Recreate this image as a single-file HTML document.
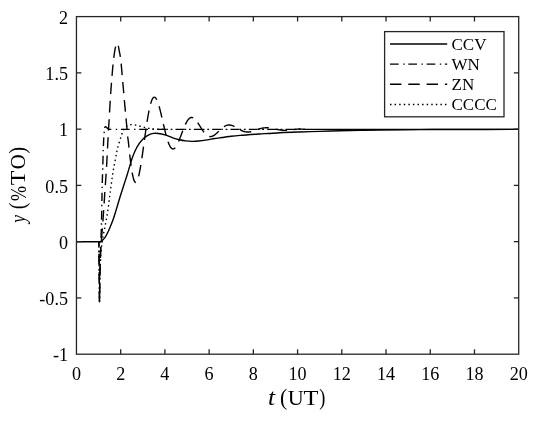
<!DOCTYPE html>
<html><head><meta charset="utf-8"><style>
html,body{margin:0;padding:0;background:#fff;}
svg{display:block;will-change:transform;}
text{font-family:"Liberation Serif",serif;fill:#000;}
</style></head><body>
<svg width="550" height="421" viewBox="0 0 550 421">
<rect width="550" height="421" fill="#fff"/>
<g fill="none" stroke="#000" stroke-width="1.4" stroke-linejoin="round" transform="translate(0 0.33)">
<path d="M76.45 241.40L98.80 241.40C99.00 241.38 99.53 241.43 100.00 241.30C100.47 241.17 101.07 240.95 101.60 240.60C102.13 240.25 102.68 239.72 103.20 239.20C103.72 238.68 104.22 238.15 104.70 237.50C105.18 236.85 105.63 236.12 106.10 235.30C106.57 234.48 107.03 233.53 107.50 232.60C107.97 231.67 108.28 231.10 108.90 229.70C109.52 228.30 110.47 226.05 111.20 224.20C111.93 222.35 112.62 220.57 113.30 218.60C113.98 216.63 114.62 214.60 115.30 212.40C115.98 210.20 116.48 208.43 117.40 205.40C118.32 202.37 119.68 197.77 120.80 194.20C121.92 190.63 123.07 187.20 124.10 184.00C125.13 180.80 126.05 178.08 127.00 175.00C127.95 171.92 128.90 168.47 129.80 165.50C130.70 162.53 131.47 159.80 132.40 157.20C133.33 154.60 134.25 152.25 135.40 149.90C136.55 147.55 137.87 145.15 139.30 143.10C140.73 141.05 142.42 139.03 144.00 137.60C145.58 136.17 147.22 135.25 148.80 134.50C150.38 133.75 151.92 133.33 153.50 133.10C155.08 132.87 156.38 132.87 158.30 133.10C160.22 133.33 162.60 133.77 165.00 134.50C167.40 135.23 170.28 136.68 172.70 137.50C175.12 138.32 177.37 138.90 179.50 139.40C181.63 139.90 183.45 140.23 185.50 140.50C187.55 140.77 189.63 140.97 191.80 141.00C193.97 141.03 195.92 140.95 198.50 140.70C201.08 140.45 204.63 139.92 207.30 139.50C209.97 139.08 212.08 138.58 214.50 138.20C216.92 137.82 219.37 137.53 221.80 137.20C224.23 136.87 226.07 136.57 229.10 136.20C232.13 135.83 234.85 135.43 240.00 135.00C245.15 134.57 253.33 134.04 260.00 133.60C266.67 133.16 273.33 132.68 280.00 132.35C286.67 132.02 293.33 131.82 300.00 131.60C306.67 131.38 313.33 131.19 320.00 131.00C326.67 130.81 333.33 130.62 340.00 130.45C346.67 130.27 353.33 130.09 360.00 129.95C366.67 129.81 370.00 129.71 380.00 129.60C390.00 129.49 406.67 129.38 420.00 129.30C433.33 129.23 443.55 129.19 460.00 129.15C476.45 129.11 508.92 129.07 518.70 129.06"/>
<path d="M98.90 241.40L99.50 301.30C99.54 298.58 99.65 291.05 99.75 285.00C99.85 278.95 99.96 271.17 100.10 265.00C100.24 258.83 100.43 253.00 100.60 248.00C100.77 243.00 100.95 239.33 101.10 235.00C101.25 230.67 101.38 227.00 101.50 222.00C101.62 217.00 101.72 209.50 101.80 205.00C101.88 200.50 101.92 198.83 102.00 195.00C102.08 191.17 102.20 185.83 102.30 182.00C102.40 178.17 102.48 176.00 102.60 172.00C102.72 168.00 102.88 162.00 103.00 158.00C103.12 154.00 103.18 151.17 103.30 148.00C103.42 144.83 103.57 141.50 103.70 139.00C103.83 136.50 103.97 134.83 104.10 133.00C104.23 131.17 104.28 129.12 104.50 128.00C104.72 126.88 105.05 126.45 105.40 126.30C105.75 126.15 106.10 126.68 106.60 127.10C107.10 127.52 107.67 128.48 108.40 128.80C109.13 129.12 110.57 128.99 111.00 129.03" stroke-dasharray="0.00 0.00 4.36 4.50 1.40 3.70 8.70 4.50 1.40 3.70 8.70 4.50 1.40 3.70 8.70 4.50 1.40 3.70 8.70 4.50 1.40 3.70 8.70 4.50 1.40 3.70 8.70 4.50 1.40 3.70 8.70 4.50 1.40 3.70 8.70 4.50 1.40 3.70 8.60 4.46 1.38 3.64 9.10 4.48 1.40 3.68 8.66 4.48 1.40 3.68 8.68 4.48 1.40 3.68 8.35 1000.00"/>
<path d="M98.90 241.40L99.50 301.30C99.54 298.58 99.64 291.05 99.75 285.00C99.86 278.95 99.99 270.83 100.15 265.00C100.31 259.17 100.46 254.67 100.70 250.00C100.94 245.33 101.27 241.33 101.60 237.00C101.93 232.67 102.38 228.17 102.70 224.00C103.02 219.83 103.25 215.67 103.50 212.00C103.75 208.33 103.98 205.33 104.20 202.00C104.42 198.67 104.60 195.00 104.80 192.00C105.00 189.00 105.18 187.08 105.40 184.00C105.62 180.92 105.88 176.83 106.10 173.50C106.32 170.17 106.50 167.50 106.70 164.00C106.90 160.50 107.10 156.42 107.30 152.50C107.50 148.58 107.70 144.33 107.90 140.50C108.10 136.67 108.27 133.50 108.50 129.50C108.73 125.50 109.00 121.58 109.30 116.50C109.60 111.42 109.98 104.08 110.30 99.00C110.62 93.92 110.88 90.25 111.20 86.00C111.52 81.75 111.85 77.58 112.20 73.50C112.55 69.42 112.90 65.17 113.30 61.50C113.70 57.83 114.18 54.18 114.60 51.50C115.02 48.82 115.40 46.83 115.80 45.40C116.20 43.97 116.60 42.95 117.00 42.90C117.40 42.85 117.82 43.78 118.20 45.10C118.58 46.42 118.92 48.73 119.30 50.80C119.68 52.87 120.15 54.97 120.50 57.50C120.85 60.03 121.10 62.83 121.40 66.00C121.70 69.17 121.98 72.92 122.30 76.50C122.62 80.08 122.93 83.33 123.30 87.50C123.67 91.67 124.08 96.83 124.50 101.50C124.92 106.17 125.42 111.33 125.80 115.50C126.18 119.67 126.50 123.15 126.80 126.50C127.10 129.85 127.32 132.94 127.60 135.60C127.88 138.26 128.27 140.48 128.50 142.47C128.73 144.45 128.83 145.88 129.00 147.52C129.17 149.16 129.33 150.76 129.50 152.31C129.67 153.86 129.83 155.36 130.00 156.80C130.17 158.25 130.33 159.65 130.50 160.98C130.67 162.32 130.83 163.60 131.00 164.82C131.17 166.05 131.33 167.21 131.50 168.31C131.67 169.41 131.83 170.45 132.00 171.42C132.17 172.39 132.33 173.30 132.50 174.15C132.67 174.99 132.83 175.77 133.00 176.48C133.17 177.19 133.33 177.83 133.50 178.41C133.67 178.98 133.83 179.49 134.00 179.93C134.17 180.38 134.33 180.75 134.50 181.06C134.67 181.36 134.83 181.60 135.00 181.78C135.17 181.95 135.33 182.06 135.50 182.10C135.67 182.15 135.83 182.12 136.00 182.04C136.17 181.95 136.33 181.81 136.50 181.60C136.67 181.39 136.83 181.12 137.00 180.79C137.17 180.47 137.33 180.08 137.50 179.64C137.67 179.20 137.83 178.70 138.00 178.15C138.17 177.61 138.33 177.00 138.50 176.36C138.67 175.71 138.83 175.01 139.00 174.27C139.17 173.52 139.33 172.74 139.50 171.91C139.67 171.08 139.83 170.21 140.00 169.31C140.17 168.40 140.33 167.46 140.50 166.48C140.67 165.51 140.83 164.50 141.00 163.47C141.17 162.44 141.33 161.37 141.50 160.29C141.67 159.20 141.83 158.09 142.00 156.97C142.17 155.84 142.33 154.69 142.50 153.53C142.67 152.37 142.83 151.20 143.00 150.01C143.17 148.83 143.33 147.63 143.50 146.44C143.67 145.24 143.83 144.03 144.00 142.83C144.17 141.63 144.33 140.42 144.50 139.22C144.67 138.02 144.83 136.82 145.00 135.63C145.17 134.44 145.33 133.26 145.50 132.09C145.67 130.92 145.83 129.76 146.00 128.62C146.17 127.48 146.33 126.35 146.50 125.25C146.67 124.14 146.83 123.05 147.00 121.99C147.17 120.92 147.33 119.88 147.50 118.86C147.67 117.85 147.83 116.86 148.00 115.90C148.17 114.93 148.33 114.00 148.50 113.10C148.67 112.20 148.83 111.33 149.00 110.49C149.17 109.66 149.33 108.85 149.50 108.08C149.67 107.32 149.83 106.58 150.00 105.89C150.17 105.20 150.33 104.54 150.50 103.92C150.67 103.30 150.83 102.72 151.00 102.18C151.17 101.64 151.33 101.14 151.50 100.68C151.67 100.22 151.83 99.80 152.00 99.42C152.17 99.04 152.33 98.70 152.50 98.41C152.67 98.11 152.83 97.85 153.00 97.64C153.17 97.42 153.33 97.25 153.50 97.11C153.67 96.98 153.83 96.89 154.00 96.83C154.17 96.78 154.33 96.76 154.50 96.79C154.67 96.81 154.83 96.88 155.00 96.98C155.17 97.08 155.33 97.21 155.50 97.39C155.67 97.56 155.83 97.77 156.00 98.01C156.17 98.26 156.33 98.54 156.50 98.85C156.67 99.16 156.83 99.50 157.00 99.87C157.17 100.25 157.33 100.65 157.50 101.08C157.67 101.51 157.83 101.97 158.00 102.46C158.17 102.94 158.33 103.46 158.50 103.99C158.67 104.52 158.83 105.08 159.00 105.66C159.17 106.23 159.33 106.83 159.50 107.45C159.67 108.07 159.83 108.70 160.00 109.35C160.17 110.00 160.33 110.66 160.50 111.34C160.67 112.01 160.83 112.71 161.00 113.40C161.17 114.10 161.33 114.81 161.50 115.52C161.67 116.24 161.83 116.96 162.00 117.69C162.17 118.41 162.33 119.14 162.50 119.87C162.67 120.60 162.83 121.34 163.00 122.07C163.17 122.80 163.33 123.53 163.50 124.25C163.67 124.98 163.83 125.70 164.00 126.42C164.17 127.13 164.33 127.84 164.50 128.54C164.67 129.24 164.83 129.93 165.00 130.61C165.17 131.29 165.33 131.96 165.50 132.62C165.67 133.27 165.83 133.92 166.00 134.55C166.17 135.17 166.33 135.79 166.50 136.38C166.67 136.98 166.83 137.56 167.00 138.12C167.17 138.68 167.33 139.22 167.50 139.75C167.67 140.27 167.83 140.77 168.00 141.25C168.17 141.73 168.33 142.19 168.50 142.63C168.67 143.07 168.83 143.49 169.00 143.88C169.17 144.27 169.33 144.64 169.50 144.98C169.67 145.33 169.83 145.65 170.00 145.95C170.17 146.24 170.33 146.52 170.50 146.77C170.67 147.01 170.83 147.24 171.00 147.43C171.17 147.63 171.33 147.80 171.50 147.95C171.67 148.10 171.83 148.22 172.00 148.32C172.17 148.42 172.33 148.50 172.50 148.55C172.67 148.60 172.83 148.62 173.00 148.62C173.17 148.63 173.33 148.60 173.50 148.56C173.67 148.51 173.83 148.45 174.00 148.36C174.17 148.27 174.33 148.15 174.50 148.02C174.67 147.89 174.83 147.73 175.00 147.56C175.17 147.38 175.33 147.19 175.50 146.97C175.67 146.76 175.83 146.53 176.00 146.28C176.17 146.03 176.33 145.76 176.50 145.48C176.67 145.19 176.83 144.89 177.00 144.58C177.17 144.27 177.33 143.94 177.50 143.59C177.67 143.25 177.83 142.90 178.00 142.53C178.17 142.17 178.33 141.79 178.50 141.40C178.67 141.01 178.83 140.61 179.00 140.21C179.17 139.80 179.33 139.39 179.50 138.97C179.67 138.55 179.83 138.12 180.00 137.69C180.17 137.26 180.33 136.82 180.50 136.39C180.67 135.95 180.83 135.51 181.00 135.06C181.17 134.62 181.33 134.17 181.50 133.73C181.67 133.29 181.83 132.84 182.00 132.40C182.17 131.96 182.33 131.52 182.50 131.08C182.67 130.64 182.83 130.21 183.00 129.78C183.17 129.35 183.33 128.93 183.50 128.51C183.67 128.09 183.83 127.68 184.00 127.27C184.17 126.87 184.33 126.47 184.50 126.09C184.67 125.70 184.83 125.32 185.00 124.95C185.17 124.58 185.33 124.22 185.50 123.87C185.67 123.52 185.83 123.19 186.00 122.86C186.17 122.53 186.33 122.22 186.50 121.92C186.67 121.62 186.83 121.33 187.00 121.05C187.17 120.78 187.33 120.52 187.50 120.27C187.67 120.02 187.83 119.78 188.00 119.57C188.17 119.35 188.33 119.14 188.50 118.95C188.67 118.76 188.83 118.58 189.00 118.42C189.17 118.26 189.33 118.11 189.50 117.98C189.67 117.85 189.83 117.74 190.00 117.64C190.17 117.53 190.33 117.45 190.50 117.38C190.67 117.31 190.83 117.25 191.00 117.21C191.17 117.17 191.33 117.15 191.50 117.13C191.67 117.12 191.83 117.13 192.00 117.14C192.17 117.16 192.33 117.19 192.50 117.24C192.67 117.28 192.83 117.34 193.00 117.41C193.17 117.48 193.33 117.57 193.50 117.67C193.67 117.76 193.83 117.87 194.00 118.00C194.17 118.12 194.33 118.25 194.50 118.40C194.67 118.54 194.83 118.69 195.00 118.86C195.17 119.02 195.33 119.20 195.50 119.38C195.67 119.57 195.83 119.76 196.00 119.97C196.17 120.17 196.33 120.38 196.50 120.60C196.67 120.81 196.83 121.04 197.00 121.27C197.17 121.50 197.33 121.74 197.50 121.98C197.67 122.22 197.83 122.47 198.00 122.72C198.17 122.97 198.33 123.23 198.50 123.49C198.67 123.75 198.83 124.01 199.00 124.28C199.17 124.54 199.33 124.81 199.50 125.08C199.67 125.35 199.83 125.62 200.00 125.89C200.17 126.16 200.33 126.43 200.50 126.70C200.67 126.97 200.83 127.24 201.00 127.50C201.17 127.77 201.33 128.04 201.50 128.30C201.67 128.56 201.83 128.82 202.00 129.08C202.17 129.33 202.33 129.59 202.50 129.83C202.67 130.08 202.83 130.33 203.00 130.57C203.17 130.81 203.33 131.04 203.50 131.27C203.67 131.50 203.83 131.72 204.00 131.94C204.17 132.15 204.33 132.36 204.50 132.57C204.67 132.77 204.83 132.96 205.00 133.15C205.17 133.34 205.33 133.52 205.50 133.70C205.67 133.87 205.83 134.03 206.00 134.19C206.17 134.35 206.33 134.50 206.50 134.64C206.67 134.77 206.83 134.91 207.00 135.03C207.17 135.15 207.33 135.26 207.50 135.37C207.67 135.47 207.83 135.57 208.00 135.65C208.17 135.74 208.33 135.82 208.50 135.88C208.67 135.95 208.83 136.01 209.00 136.06C209.17 136.11 209.33 136.15 209.50 136.18C209.67 136.21 209.83 136.23 210.00 136.25C210.17 136.26 210.33 136.26 210.50 136.26C210.67 136.25 210.83 136.24 211.00 136.22C211.17 136.20 211.33 136.17 211.50 136.13C211.67 136.09 211.83 136.05 212.00 135.99C212.17 135.94 212.33 135.88 212.50 135.81C212.67 135.74 212.83 135.66 213.00 135.58C213.17 135.50 213.33 135.41 213.50 135.31C213.67 135.22 213.83 135.11 214.00 135.01C214.17 134.90 214.33 134.78 214.50 134.66C214.67 134.55 214.83 134.42 215.00 134.29C215.17 134.16 215.33 134.03 215.50 133.89C215.67 133.75 215.83 133.61 216.00 133.47C216.17 133.32 216.33 133.17 216.50 133.02C216.67 132.87 216.83 132.72 217.00 132.56C217.17 132.40 217.33 132.25 217.50 132.09C217.67 131.93 217.83 131.76 218.00 131.60C218.17 131.44 218.33 131.28 218.50 131.11C218.67 130.95 218.83 130.78 219.00 130.62C219.17 130.46 219.33 130.29 219.50 130.13C219.67 129.97 219.83 129.80 220.00 129.64C220.17 129.48 220.33 129.32 220.50 129.17C220.67 129.01 220.83 128.85 221.00 128.70C221.17 128.55 221.33 128.40 221.50 128.25C221.67 128.10 221.83 127.96 222.00 127.82C222.17 127.68 222.33 127.54 222.50 127.40C222.67 127.27 222.83 127.14 223.00 127.01C223.17 126.89 223.33 126.77 223.50 126.65C223.67 126.53 223.83 126.42 224.00 126.31C224.17 126.20 224.33 126.10 224.50 126.00C224.67 125.90 224.83 125.81 225.00 125.72C225.17 125.63 225.33 125.54 225.50 125.47C225.67 125.39 225.83 125.32 226.00 125.25C226.17 125.18 226.33 125.12 226.50 125.06C226.67 125.01 226.83 124.96 227.00 124.91C227.17 124.87 227.33 124.83 227.50 124.79C227.67 124.76 227.83 124.73 228.00 124.71C228.17 124.69 228.33 124.67 228.50 124.66C228.67 124.64 228.83 124.64 229.00 124.64C229.17 124.64 229.33 124.64 229.50 124.65C229.67 124.66 229.83 124.67 230.00 124.69C230.17 124.71 230.33 124.74 230.50 124.77C230.67 124.80 230.83 124.83 231.00 124.87C231.17 124.91 231.33 124.95 231.50 125.00C231.67 125.05 231.83 125.10 232.00 125.15C232.17 125.21 232.33 125.27 232.50 125.33C232.67 125.39 232.83 125.46 233.00 125.53C233.17 125.60 233.33 125.68 233.50 125.75C233.67 125.83 233.83 125.91 234.00 125.99C234.17 126.07 234.33 126.16 234.50 126.24C234.67 126.33 234.83 126.42 235.00 126.51C235.17 126.60 235.33 126.69 235.50 126.79C235.67 126.88 235.83 126.97 236.00 127.07C236.17 127.17 236.33 127.27 236.50 127.36C236.67 127.46 236.83 127.56 237.00 127.66C237.17 127.76 237.33 127.86 237.50 127.96C237.67 128.06 237.83 128.16 238.00 128.26C238.17 128.36 238.33 128.46 238.50 128.55C238.67 128.65 238.83 128.75 239.00 128.85C239.17 128.94 239.33 129.04 239.50 129.13C239.67 129.22 239.83 129.32 240.00 129.41C240.17 129.50 240.33 129.59 240.50 129.67C240.67 129.76 240.83 129.85 241.00 129.93C241.17 130.01 241.33 130.09 241.50 130.17C241.67 130.25 241.83 130.33 242.00 130.40C242.17 130.47 242.33 130.54 242.50 130.61C242.67 130.68 242.83 130.75 243.00 130.81C243.17 130.87 243.33 130.93 243.50 130.98C243.67 131.04 243.83 131.09 244.00 131.14C244.17 131.19 244.33 131.24 244.50 131.28C244.67 131.33 244.83 131.37 245.00 131.40C245.17 131.44 245.33 131.47 245.50 131.50C245.67 131.53 245.83 131.56 246.00 131.58C246.17 131.60 246.33 131.62 246.50 131.64C246.67 131.66 246.83 131.67 247.00 131.68C247.17 131.69 247.33 131.69 247.50 131.70C247.67 131.70 247.83 131.70 248.00 131.70C248.17 131.69 248.33 131.69 248.50 131.68C248.67 131.67 248.83 131.65 249.00 131.64C249.17 131.62 249.33 131.60 249.50 131.58C249.67 131.56 249.83 131.54 250.00 131.51C250.17 131.48 250.33 131.45 250.50 131.42C250.67 131.39 250.83 131.35 251.00 131.32C251.17 131.28 251.33 131.24 251.50 131.20C251.67 131.16 251.83 131.12 252.00 131.07C252.17 131.03 252.33 130.98 252.50 130.93C252.67 130.88 252.83 130.83 253.00 130.78C253.17 130.73 253.33 130.67 253.50 130.62C253.67 130.57 253.83 130.51 254.00 130.45C254.17 130.40 254.33 130.34 254.50 130.28C254.67 130.22 254.83 130.16 255.00 130.11C255.17 130.05 255.33 129.99 255.50 129.93C255.67 129.87 255.83 129.81 256.00 129.74C256.17 129.68 256.33 129.62 256.50 129.56C256.67 129.50 256.83 129.44 257.00 129.38C257.17 129.32 257.33 129.26 257.50 129.20C257.67 129.15 257.83 129.09 258.00 129.03C258.17 128.97 258.33 128.92 258.50 128.86C258.67 128.80 258.83 128.75 259.00 128.69C259.17 128.64 259.33 128.59 259.50 128.54C259.67 128.49 259.83 128.44 260.00 128.39C260.17 128.34 260.33 128.29 260.50 128.25C260.67 128.20 260.83 128.16 261.00 128.11C261.17 128.07 261.33 128.03 261.50 127.99C261.67 127.95 261.83 127.91 262.00 127.88C262.17 127.84 262.33 127.81 262.50 127.78C262.67 127.75 262.83 127.72 263.00 127.69C263.17 127.66 263.33 127.64 263.50 127.61C263.67 127.59 263.83 127.57 264.00 127.55C264.17 127.53 264.33 127.51 264.50 127.50C264.67 127.48 264.83 127.47 265.00 127.46C265.17 127.44 265.33 127.44 265.50 127.43C265.67 127.42 265.83 127.42 266.00 127.41C266.17 127.41 266.33 127.41 266.50 127.41C266.67 127.41 266.83 127.41 267.00 127.42C267.17 127.42 267.33 127.43 267.50 127.44C267.67 127.44 267.83 127.46 268.00 127.47C268.17 127.48 268.33 127.49 268.50 127.51C268.67 127.52 268.83 127.54 269.00 127.56C269.17 127.58 269.33 127.60 269.50 127.62C269.67 127.64 269.83 127.66 270.00 127.69C270.17 127.71 270.33 127.74 270.50 127.76C270.67 127.79 270.83 127.82 271.00 127.85C271.17 127.87 271.33 127.90 271.50 127.93C271.67 127.97 271.83 128.00 272.00 128.03C272.17 128.06 272.33 128.10 272.50 128.13C272.67 128.16 272.83 128.20 273.00 128.23C273.17 128.27 273.33 128.30 273.50 128.34C273.67 128.37 273.83 128.41 274.00 128.45C274.17 128.48 274.33 128.52 274.50 128.56C274.67 128.59 274.83 128.63 275.00 128.67C275.17 128.70 275.33 128.74 275.50 128.78C275.67 128.81 275.83 128.85 276.00 128.89C276.17 128.92 276.33 128.96 276.50 128.99C276.67 129.03 276.83 129.06 277.00 129.10C277.17 129.13 277.33 129.17 277.50 129.20C277.67 129.23 277.83 129.26 278.00 129.30C278.17 129.33 278.33 129.36 278.50 129.39C278.67 129.42 278.83 129.45 279.00 129.48C279.17 129.51 279.33 129.53 279.50 129.56C279.67 129.59 279.83 129.61 280.00 129.64C280.17 129.66 280.33 129.68 280.50 129.71C280.67 129.73 280.83 129.75 281.00 129.77C281.17 129.79 281.33 129.81 281.50 129.83C281.67 129.84 281.83 129.86 282.00 129.88C282.17 129.89 282.33 129.90 282.50 129.92C282.67 129.93 282.83 129.94 283.00 129.95C283.17 129.96 283.33 129.97 283.50 129.98C283.67 129.99 283.83 129.99 284.00 130.00C284.17 130.00 284.33 130.01 284.50 130.01C284.67 130.01 284.83 130.01 285.00 130.01C285.17 130.02 285.33 130.01 285.50 130.01C285.67 130.01 285.83 130.01 286.00 130.00C286.17 130.00 286.33 129.99 286.50 129.99C286.67 129.98 286.83 129.97 287.00 129.96C287.17 129.96 287.33 129.95 287.50 129.94C287.67 129.93 287.83 129.91 288.00 129.90C288.17 129.89 288.33 129.88 288.50 129.86C288.67 129.85 288.83 129.83 289.00 129.82C289.17 129.80 289.33 129.79 289.50 129.77C289.67 129.75 289.83 129.73 290.00 129.72C290.17 129.70 290.33 129.68 290.50 129.66C290.67 129.64 290.83 129.62 291.00 129.60C291.17 129.58 291.33 129.56 291.50 129.54C291.67 129.52 291.83 129.49 292.00 129.47C292.17 129.45 292.33 129.43 292.50 129.41C292.67 129.39 292.83 129.36 293.00 129.34C293.17 129.32 293.33 129.30 293.50 129.27C293.67 129.25 293.83 129.23 294.00 129.21C294.17 129.18 294.33 129.16 294.50 129.14C294.67 129.12 294.83 129.10 295.00 129.08C295.17 129.05 295.33 129.03 295.50 129.01C295.67 128.99 295.83 128.97 296.00 128.95C296.17 128.93 296.33 128.91 296.50 128.89C296.67 128.87 296.83 128.85 297.00 128.83C297.17 128.81 297.33 128.79 297.50 128.78C297.67 128.76 297.83 128.74 298.00 128.73C298.17 128.71 298.33 128.69 298.50 128.68C298.67 128.66 298.83 128.65 299.00 128.63C299.17 128.62 299.33 128.61 299.50 128.59C299.67 128.58 299.08 128.49 300.00 128.56C300.92 128.63 304.17 128.95 305.00 129.03" stroke-dasharray="0.00 0.00 5.02 6.90 11.40 6.90 11.40 6.90 11.40 6.90 11.40 6.90 11.40 6.90 11.40 6.90 11.40 6.90 11.40 6.90 11.40 6.92 11.36 6.96 11.34 6.92 11.32 6.86 11.32 6.86 11.34 6.84 11.34 6.86 11.32 6.86 11.32 6.86 11.34 6.86 11.36 6.86 11.34 6.86 11.34 6.86 11.34 6.88 11.34 6.86 11.34 6.86 11.06 6.72 11.62 6.84 11.72 6.88 11.34 6.88 11.46 6.92 11.64 6.94 11.62 6.80 11.44 6.78 11.78 6.96 11.68 6.68 11.42 6.74 11.48 6.82 11.32 6.86 11.16 6.94 11.26 6.88 11.40 6.90 11.40 6.90 11.40 1000.02"/>
<path d="M98.90 241.40L99.50 301.30C99.54 298.58 99.63 290.55 99.75 285.00C99.87 279.45 100.01 273.17 100.20 268.00C100.39 262.83 100.58 258.33 100.90 254.00C101.22 249.67 101.65 245.50 102.10 242.00C102.55 238.50 103.12 235.67 103.60 233.00C104.08 230.33 104.52 228.50 105.00 226.00C105.48 223.50 105.98 220.92 106.50 218.00C107.02 215.08 107.57 212.22 108.10 208.50C108.63 204.78 109.23 199.32 109.70 195.70C110.17 192.08 110.50 189.77 110.90 186.80C111.30 183.83 111.67 180.90 112.10 177.90C112.53 174.90 112.97 171.87 113.50 168.80C114.03 165.73 114.75 162.43 115.30 159.50C115.85 156.57 116.30 153.57 116.80 151.20C117.30 148.83 117.77 147.25 118.30 145.30C118.83 143.35 119.45 141.30 120.00 139.50C120.55 137.70 121.05 136.05 121.60 134.50C122.15 132.95 122.67 131.45 123.30 130.20C123.93 128.95 124.62 127.87 125.40 127.00C126.18 126.13 127.02 125.45 128.00 125.00C128.98 124.55 130.13 124.37 131.30 124.30C132.47 124.23 133.77 124.40 135.00 124.60C136.23 124.80 137.53 125.20 138.70 125.50C139.87 125.80 140.78 126.08 142.00 126.40C143.22 126.72 144.67 127.10 146.00 127.40C147.33 127.70 148.33 127.97 150.00 128.20C151.67 128.43 153.67 128.66 156.00 128.80C158.33 128.94 162.67 128.99 164.00 129.03" stroke-dasharray="1.50 3.08" stroke-dashoffset="0.00"/>
<path d="M111.00 129.03H518.70" stroke-dasharray="0.00 0.00 0.30 4.50 1.38 3.70 8.70 4.50 1.40 3.70 8.70 4.50 1.40 3.70 8.70 0.18 1.50 2.82 1.76 3.08 8.96 0.20 1.50 2.80 1.78 3.08 8.94 0.22 1.50 2.78 1.80 3.08 8.92 0.24 1.50 2.76 1.82 3.08 8.90 0.26 1.50 2.74 1.84 3.08 8.88 0.28 1.50 2.72 1.86 3.08 8.86 0.30 1.50 2.70 1.88 3.08 8.84 0.32 1.50 2.68 1.90 3.08 214.94 1000.00"/>
</g>
<g stroke="#262626" stroke-width="1.3" fill="none">
<rect x="76.45" y="16.60" width="442.25" height="337.60"/>
<line x1="120.68" y1="354.20" x2="120.68" y2="349.30"/><line x1="120.68" y1="16.60" x2="120.68" y2="21.50"/><line x1="164.90" y1="354.20" x2="164.90" y2="349.30"/><line x1="164.90" y1="16.60" x2="164.90" y2="21.50"/><line x1="209.12" y1="354.20" x2="209.12" y2="349.30"/><line x1="209.12" y1="16.60" x2="209.12" y2="21.50"/><line x1="253.35" y1="354.20" x2="253.35" y2="349.30"/><line x1="253.35" y1="16.60" x2="253.35" y2="21.50"/><line x1="297.58" y1="354.20" x2="297.58" y2="349.30"/><line x1="297.58" y1="16.60" x2="297.58" y2="21.50"/><line x1="341.80" y1="354.20" x2="341.80" y2="349.30"/><line x1="341.80" y1="16.60" x2="341.80" y2="21.50"/><line x1="386.03" y1="354.20" x2="386.03" y2="349.30"/><line x1="386.03" y1="16.60" x2="386.03" y2="21.50"/><line x1="430.25" y1="354.20" x2="430.25" y2="349.30"/><line x1="430.25" y1="16.60" x2="430.25" y2="21.50"/><line x1="474.48" y1="354.20" x2="474.48" y2="349.30"/><line x1="474.48" y1="16.60" x2="474.48" y2="21.50"/><line x1="76.45" y1="297.93" x2="81.35" y2="297.93"/><line x1="518.70" y1="297.93" x2="513.80" y2="297.93"/><line x1="76.45" y1="241.67" x2="81.35" y2="241.67"/><line x1="518.70" y1="241.67" x2="513.80" y2="241.67"/><line x1="76.45" y1="185.40" x2="81.35" y2="185.40"/><line x1="518.70" y1="185.40" x2="513.80" y2="185.40"/><line x1="76.45" y1="129.13" x2="81.35" y2="129.13"/><line x1="518.70" y1="129.13" x2="513.80" y2="129.13"/><line x1="76.45" y1="72.87" x2="81.35" y2="72.87"/><line x1="518.70" y1="72.87" x2="513.80" y2="72.87"/>
</g>
<g font-size="19.5"><text transform="translate(76.45 380.10) scale(0.930 1)" text-anchor="middle">0</text><text transform="translate(120.68 380.10) scale(0.930 1)" text-anchor="middle">2</text><text transform="translate(164.90 380.10) scale(0.930 1)" text-anchor="middle">4</text><text transform="translate(209.12 380.10) scale(0.930 1)" text-anchor="middle">6</text><text transform="translate(253.35 380.10) scale(0.930 1)" text-anchor="middle">8</text><text transform="translate(297.58 380.10) scale(0.930 1)" text-anchor="middle">10</text><text transform="translate(341.80 380.10) scale(0.930 1)" text-anchor="middle">12</text><text transform="translate(386.03 380.10) scale(0.930 1)" text-anchor="middle">14</text><text transform="translate(430.25 380.10) scale(0.930 1)" text-anchor="middle">16</text><text transform="translate(474.48 380.10) scale(0.930 1)" text-anchor="middle">18</text><text transform="translate(518.70 380.10) scale(0.930 1)" text-anchor="middle">20</text><text transform="translate(68.00 361.30) scale(0.930 1)" text-anchor="end">-1</text><text transform="translate(68.00 305.03) scale(0.930 1)" text-anchor="end">-0.5</text><text transform="translate(68.00 248.77) scale(0.930 1)" text-anchor="end">0</text><text transform="translate(68.00 192.50) scale(0.930 1)" text-anchor="end">0.5</text><text transform="translate(68.00 136.23) scale(0.930 1)" text-anchor="end">1</text><text transform="translate(68.00 79.97) scale(0.930 1)" text-anchor="end">1.5</text><text transform="translate(68.00 23.70) scale(0.930 1)" text-anchor="end">2</text></g>
<text transform="translate(267.98 404.70) scale(1.133 1)" font-size="22.60" font-style="italic">t</text><text transform="translate(280.04 404.70) scale(0.948 1)" font-size="23.00">(</text><text transform="translate(287.83 404.70) scale(1.057 1)" font-size="21.00">U</text><text transform="translate(303.56 404.70) scale(1.165 1)" font-size="21.00">T</text><text transform="translate(319.21 404.70) scale(0.796 1)" font-size="23.00">)</text>
<text transform="rotate(-90) translate(-222.84 25.10) scale(0.871 1)" font-size="20.00" font-style="italic">y</text><text transform="rotate(-90) translate(-209.37 25.10) scale(0.863 1)" font-size="23.00">(</text><text transform="rotate(-90) translate(-200.92 26.00) scale(0.752 1)" font-size="24.00">%</text><text transform="rotate(-90) translate(-185.13 25.10) scale(1.141 1)" font-size="21.00">T</text><text transform="rotate(-90) translate(-169.35 25.10) scale(0.989 1)" font-size="21.00">O</text><text transform="rotate(-90) translate(-153.67 25.10) scale(0.897 1)" font-size="23.00">)</text>
<rect x="384.60" y="31.60" width="119.40" height="85.20" fill="#fff" stroke="#262626" stroke-width="1.3"/>
<g stroke="#000" stroke-width="1.4">
<line x1="390" x2="447.2" y1="44.0" y2="44.0"/>
<line x1="390" x2="447.2" y1="64.1" y2="64.1" stroke-dasharray="8.7 4.5 1.4 3.7"/>
<line x1="390" x2="447.2" y1="84.3" y2="84.3" stroke-dasharray="11.4 6.9"/>
<line x1="390" x2="447.2" y1="104.5" y2="104.5" stroke-dasharray="1.5 3.08"/>
</g>
<g font-size="17">
<text x="451.5" y="49.80">CCV</text>
<text x="451.5" y="69.90">WN</text>
<text x="451.5" y="90.10">ZN</text>
<text x="451.5" y="110.30">CCCC</text>
</g>
</svg>
</body></html>
